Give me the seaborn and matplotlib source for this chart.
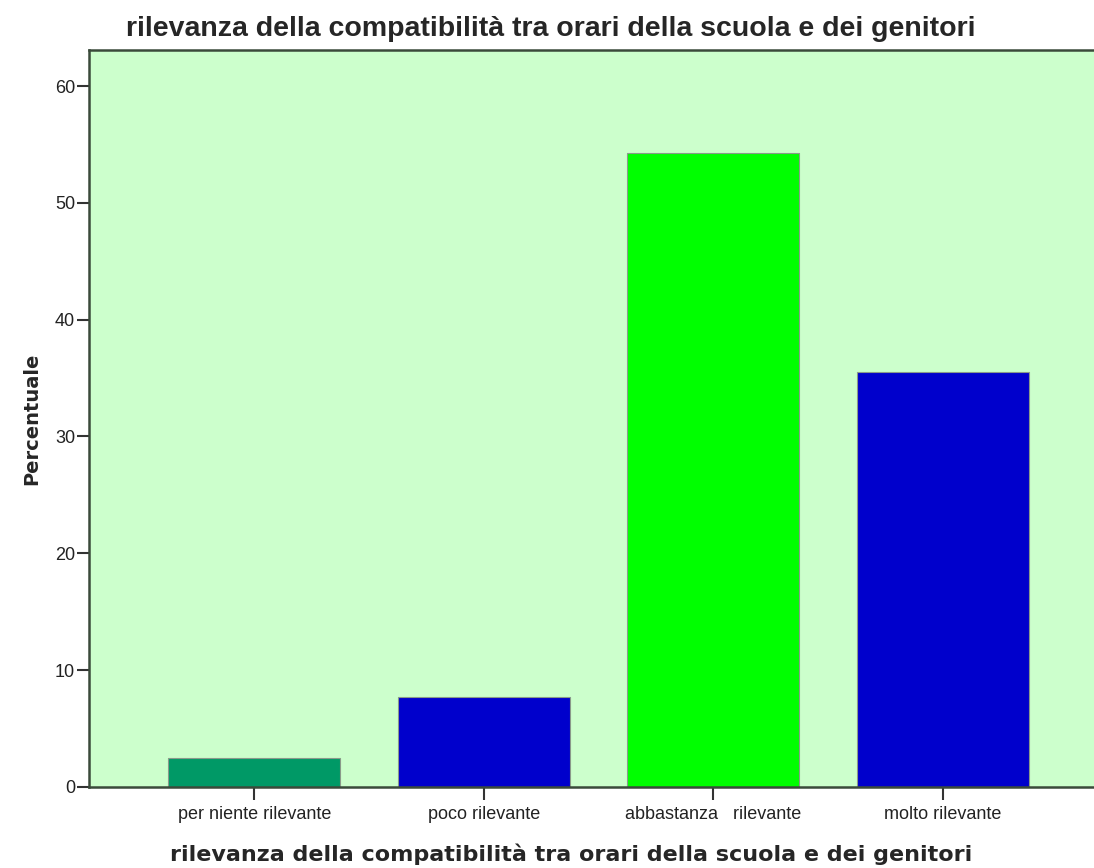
import pandas as pd
import seaborn as sns
import matplotlib.pyplot as plt

# Data
categorie = ["per niente rilevante", "poco rilevante", "abbastanza   rilevante", "molto rilevante"]
percentuali = [2.5, 7.7, 54.3, 35.5]
colori = ["#009966", "#0000CC", "#00FF00", "#0000CC"]

titolo = "rilevanza della compatibilità tra orari della scuola e dei genitori"

df = pd.DataFrame({"categoria": categorie, "percentuale": percentuali})

sns.set_style("white")
plt.rcParams['font.family'] = ['Liberation Sans', 'DejaVu Sans']

fig = plt.figure(figsize=(10.94, 8.68), dpi=100)
ax = fig.add_axes([0.0814, 0.0935, 0.9186, 0.849])

sns.barplot(data=df, x="categoria", y="percentuale", hue="categoria",
            palette=colori, width=0.75, saturation=1, legend=False,
            edgecolor="#8a9a8a", linewidth=0.8, ax=ax)

ax.set_facecolor("#CCFFCC")
ax.set_xlim(-0.72, 3.66)
ax.set_ylim(0, 63.1)
ax.set_yticks([0, 10, 20, 30, 40, 50, 60])

for side in ["left", "top", "bottom"]:
    ax.spines[side].set_color("#3a4a3a")
    ax.spines[side].set_linewidth(1.8)
ax.spines["right"].set_visible(False)

ax.tick_params(axis="both", direction="out", length=9, width=1.5, color="#333333",
               labelsize=13, labelcolor="#222222")
ax.tick_params(axis="x", pad=5)
ax.tick_params(axis="y", pad=1, left=True)
ax.tick_params(axis="x", bottom=True)

ax.set_xlabel(titolo, fontsize=16, fontweight="bold", family="DejaVu Sans")
ax.xaxis.set_label_coords(0.48, -0.077)
ax.set_ylabel("Percentuale", fontsize=14, fontweight="bold", family="DejaVu Sans", labelpad=10)
ax.set_title(titolo, fontsize=20.5, fontweight="bold", x=0.459, pad=10)

fig.savefig("out.png", dpi=100)
